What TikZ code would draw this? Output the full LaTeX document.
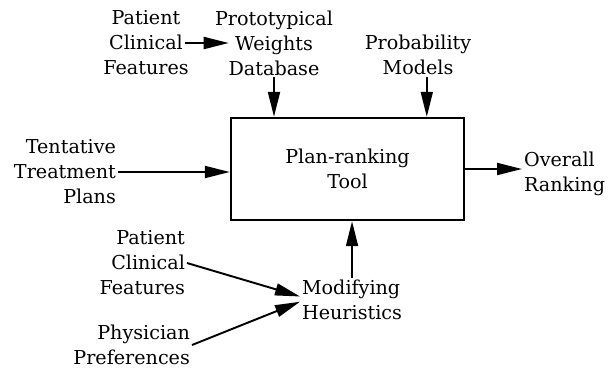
\documentclass[tikz,border=0pt]{standalone}
\usepackage{fontspec}
\setmainfont{DejaVu Serif}
\usepackage{tikz}
\usetikzlibrary{shapes,arrows.meta,positioning}

\begin{document}
\begin{tikzpicture}[x=0.02cm,y=-0.02cm]
    %styles
    \tikzstyle{label}=[inner sep=1pt,font=\fontsize{10.9}{14.2}\selectfont]
    \tikzstyle{tool}=[rectangle,draw,line width=1.4pt,minimum width=4.66cm,minimum height=2.04cm,align=center,font=\fontsize{10.9}{14.2}\selectfont]
    \tikzstyle{flow}=[-{Triangle[length=5mm,width=2.4mm]},line width=1.1pt]
    \useasboundingbox (0,0) rectangle (613,369);
    %nodes
    \node[label,align=center] (pcfa) at (146,43) {Patient\\Clinical\\Features};
    \node[label,align=center] (ptw) at (274,43) {Prototypical\\Weights\\Database};
    \node[label,align=center] (pm) at (418,55) {Probability\\Models};
    \node[label,align=right,anchor=east] (ttp) at (118,172) {Tentative\\Treatment\\Plans};
    \node[tool] (plan) at (347.5,169) {Plan-ranking\\Tool};
    \node[label,align=left,anchor=west] (ovr) at (522,174) {Overall\\Ranking};
    \node[label,align=right,anchor=east] (pcfb) at (187,263) {Patient\\Clinical\\Features};
    \node[label,align=right,anchor=east] (phy) at (192,345) {Physician\\Preferences};
    \node[label,align=left,anchor=west] (mod) at (300,300) {Modifying\\Heuristics};

    %arrows
    \draw[flow] ([xshift=-3.5pt]pcfa.east)--([xshift=9pt]ptw.west);
    \draw[flow] (ptw.south)--(ptw.south |- plan.north);
    \draw[flow] ([xshift=5pt]pm.south)--([xshift=5pt]pm.south |- plan.north);
    \draw[flow] (ttp.east)--(ttp.east -| plan.west);
    \draw[flow] (plan.east)--(plan.east -| ovr.west);
    \draw[flow] (pcfb.east)--([yshift=2pt]mod.west);
    \draw[flow] (phy.east)--([yshift=-1pt]mod.west);
    \draw[flow] (mod.north)--(mod.north |- plan.south);
\end{tikzpicture}
\end{document}
